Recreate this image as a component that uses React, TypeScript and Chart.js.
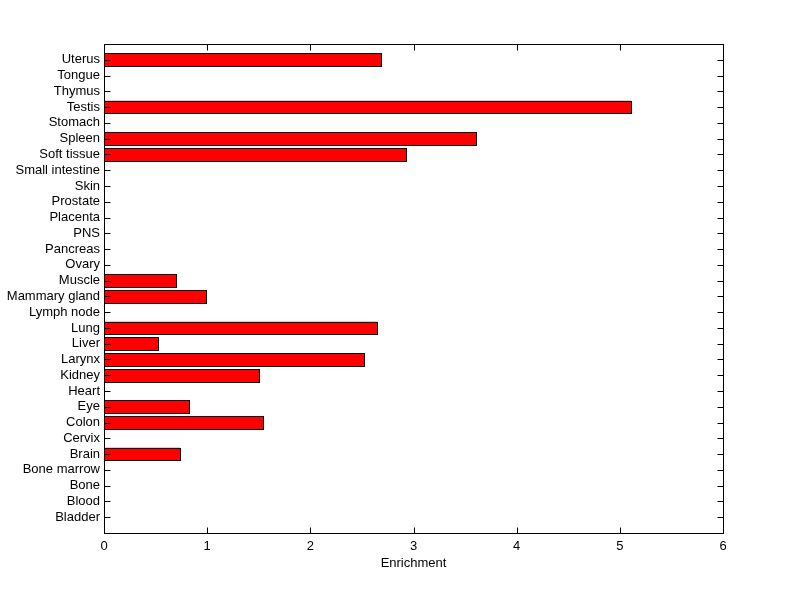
import React, { useEffect, useRef } from "react";
import { Chart, registerables } from "chart.js";

Chart.register(...registerables);

const categories = [
  "Bladder", "Blood", "Bone", "Bone marrow", "Brain", "Cervix", "Colon", "Eye", "Heart", "Kidney",
  "Larynx", "Liver", "Lung", "Lymph node", "Mammary gland", "Muscle", "Ovary", "Pancreas", "PNS",
  "Placenta", "Prostate", "Skin", "Small intestine", "Soft tissue", "Spleen", "Stomach", "Testis",
  "Thymus", "Tongue", "Uterus",
];
const enrichment = [
  0, 0, 0, 0, 0.737, 0, 1.541, 0.824, 0, 1.502,
  2.52, 0.523, 2.646, 0, 0.989, 0.698, 0, 0, 0,
  0, 0, 0, 0, 2.927, 3.606, 0, 5.108,
  0, 0, 2.685,
];
const xTicks = [0, 1, 2, 3, 4, 5, 6];

const FONT = "'Liberation Sans', Arial, Helvetica, sans-serif";

const framePlugin = {
  id: "matlabFrame",
  afterDatasetsDraw(chart: any) {
    const { ctx, chartArea: a, scales } = chart;
    const xs = scales.x;
    const ys = scales.y;
    ctx.save();
    ctx.strokeStyle = "#000";
    ctx.lineWidth = 1;
    // crisp bar outlines from the library's own bar elements
    const meta = chart.getDatasetMeta(0);
    meta.data.forEach((bar: any, i: number) => {
      if (!(enrichment[i] > 0)) return;
      const p = bar.getProps(["x", "y", "base", "height"], true);
      const x0 = Math.round(p.base) + 0.5;
      const x1 = Math.round(p.x) + 0.5;
      const y0 = Math.round(p.y - p.height / 2) + 0.5;
      const y1 = Math.round(p.y + p.height / 2) + 0.5;
      ctx.fillStyle = "#FF0000";
      ctx.fillRect(x0, y0, x1 - x0, y1 - y0);
      ctx.strokeRect(x0, y0, x1 - x0, y1 - y0);
    });
    ctx.beginPath();
    const L = 6;
    const top = Math.round(a.top) + 0.5;
    const bottom = Math.round(a.bottom) + 0.5;
    const left = Math.round(a.left) + 0.5;
    const right = Math.round(a.right) + 0.5;
    xTicks.forEach((v) => {
      const px = Math.round(xs.getPixelForValue(v)) + 0.5;
      ctx.moveTo(px, bottom);
      ctx.lineTo(px, bottom - L);
      ctx.moveTo(px, top);
      ctx.lineTo(px, top + L);
    });
    categories.forEach((_, i) => {
      const py = Math.round(ys.getPixelForValue(i + 1)) + 0.5;
      ctx.moveTo(left, py);
      ctx.lineTo(left + L, py);
      ctx.moveTo(right, py);
      ctx.lineTo(right - L, py);
    });
    ctx.stroke();
    ctx.strokeRect(left, top, right - left, bottom - top);
    ctx.restore();
  },
};

export default function App() {
  const ref = useRef<HTMLCanvasElement | null>(null);
  useEffect(() => {
    if (!ref.current) return;
    const chart = new Chart(ref.current, {
      type: "bar",
      data: {
        datasets: [
          {
            data: enrichment.map((v, i) => ({ x: v, y: i + 1 })),
            backgroundColor: "#FF0000",
            borderWidth: 0,
            barPercentage: 0.8,
            categoryPercentage: 1,
          },
        ],
      },
      options: {
        indexAxis: "y",
        animation: false,
        responsive: false,
        maintainAspectRatio: false,
        layout: { padding: { left: 0, right: 77, top: 44, bottom: 28 } },
        plugins: { legend: { display: false }, tooltip: { enabled: false } },
        scales: {
          x: {
            type: "linear",
            min: 0,
            max: 6,
            grid: { display: false, drawTicks: false },
            border: { display: false },
            ticks: { stepSize: 1, color: "#000", font: { family: FONT, size: 13 }, padding: 6 },
            title: { display: true, text: "Enrichment", color: "#000", font: { family: FONT, size: 13 }, padding: { top: 0, bottom: 0 } },
            afterFit: (s: any) => { s.height = 38; },
          },
          y: {
            type: "linear",
            min: 0,
            max: 31,
            offset: false,
            grid: { display: false, drawTicks: false, offset: false },
            border: { display: false },
            ticks: {
              stepSize: 1,
              autoSkip: false,
              color: "#000",
              font: { family: FONT, size: 13 },
              padding: 4,
              callback: (v: any) => (v >= 1 && v <= categories.length ? categories[v - 1] : ""),
            },
            afterFit: (s: any) => { s.width = 104; },
          },
        },
      },
      plugins: [framePlugin],
    } as any);
    return () => chart.destroy();
  }, []);
  return (
    <div style={{ position: "absolute", left: 0, top: 0, width: 800, height: 599, background: "#fff" }}>
      <canvas ref={ref} width={800} height={599} style={{ display: "block" }} />
    </div>
  );
}
